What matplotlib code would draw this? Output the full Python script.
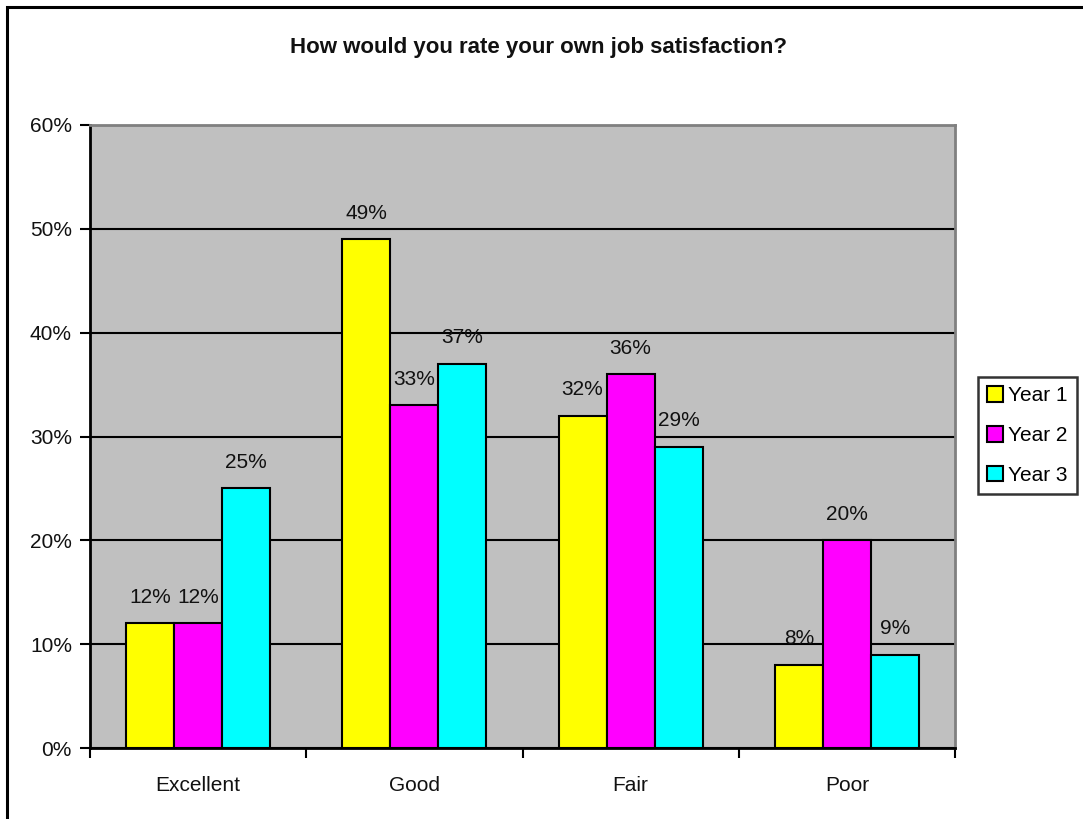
import matplotlib
matplotlib.use("Agg")
import matplotlib.pyplot as plt
from matplotlib.patches import Rectangle
from matplotlib.ticker import FixedLocator, NullFormatter, PercentFormatter
import numpy as np

plt.rcParams['font.family'] = ['Liberation Sans', 'DejaVu Sans']

categories = ["Excellent", "Good", "Fair", "Poor"]
series_names = ["Year 1", "Year 2", "Year 3"]
year1 = [12, 49, 32, 8]
year2 = [12, 33, 36, 20]
year3 = [25, 37, 29, 9]
colors = ["#FFFF00", "#FF00FF", "#00FFFF"]
title = "How would you rate your own job satisfaction?"

W, H = 1083, 819
FS = 15
fig = plt.figure(figsize=(W / 100, H / 100), dpi=100)
fig.patch.set_facecolor("white")

# outer chart frame
fig.add_artist(Rectangle((7 / W, -0.05), 1.2, 1 - 7 / H + 0.05, transform=fig.transFigure,
                         fill=False, edgecolor="black", linewidth=2.2))

ax = fig.add_axes([90 / W, 1 - 748 / H, (955 - 90) / W, (748 - 125) / H])
ax.set_facecolor("#C0C0C0")

n = len(categories)
bw = 2 / 9
x = np.arange(n)
for i, (vals, col, name) in enumerate(zip([year1, year2, year3], colors, series_names)):
    pos = x + (i - 1) * bw
    ax.bar(pos, vals, width=bw, color=col, edgecolor="black", linewidth=1.5,
           label=name, zorder=3)
    for px, v in zip(pos, vals):
        ax.annotate(f"{v}%", (px, v), xytext=(0, 12), textcoords="offset points",
                    ha="center", va="bottom", fontsize=FS, color="#111111", zorder=4)

ax.set_xlim(-0.5, n - 0.5)
ax.set_ylim(0, 60)
ax.set_yticks(np.arange(0, 61, 10))
ax.yaxis.set_major_formatter(PercentFormatter(decimals=0))
ax.grid(axis="y", color="black", linewidth=1.5, zorder=1)
ax.set_axisbelow(True)

# category boundaries carry the x tick marks, labels sit at centres
ax.xaxis.set_major_locator(FixedLocator(np.arange(-0.5, n, 1.0)))
ax.xaxis.set_major_formatter(NullFormatter())
ax.xaxis.set_minor_locator(FixedLocator(x))
ax.set_xticklabels(categories, minor=True)
ax.tick_params(axis="x", which="minor", length=0, pad=20, labelsize=FS)
ax.tick_params(axis="x", which="major", length=7, width=1.5, direction="out")
ax.tick_params(axis="y", length=7, width=1.5, direction="out", labelsize=FS, pad=6)
for lbl in ax.get_yticklabels() + ax.get_xticklabels(minor=True):
    lbl.set_color("#111111")

for s in ["left", "bottom"]:
    ax.spines[s].set_color("black")
    ax.spines[s].set_linewidth(2)
for s in ["top", "right"]:
    ax.spines[s].set_color("#808080")
    ax.spines[s].set_linewidth(2)

fig.text(538 / W, 1 - 47 / H, title, ha="center", va="center",
         fontsize=16, fontweight="bold", color="#111111")

leg = fig.legend(loc="upper left", bbox_to_anchor=(978 / W, 1 - 377 / H),
                 frameon=True, fancybox=False, edgecolor="black", fontsize=FS,
                 handlelength=0.75, handleheight=0.75, handletextpad=0.25,
                 labelspacing=1.0, borderpad=0.45, borderaxespad=0)
leg.get_frame().set_linewidth(1.8)

fig.savefig("out.png", dpi=100, facecolor="white")
